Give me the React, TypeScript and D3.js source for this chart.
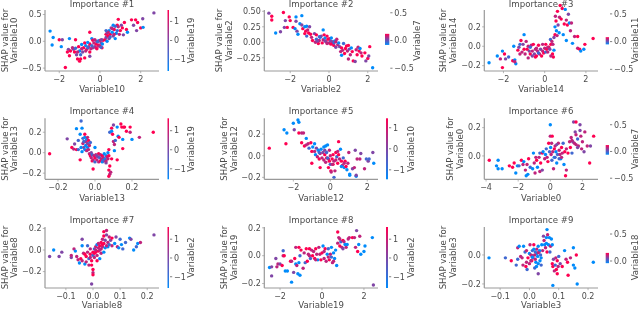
import React from "react";
import * as d3 from "d3";

type P = number[];

const mainFeatures = ["Variable10", "Variable2", "Variable14", "Variable13", "Variable12", "Variable0", "Variable8", "Variable19", "Variable3"];
const colorFeatures = ["Variable19", "Variable7", "Variable11", "Variable19", "Variable10", "Variable7", "Variable2", "Variable2", "Variable18"];

const xDomains = [[-2.7, 2.9], [-3.335, 2.526], [-2.93, 2.587], [-0.27, 0.346], [-3.57, 2.58], [-4.11, 2.97], [-0.177, 0.2435], [-2.75, 2.67], [-0.154, 0.234]];
const yDomains = [[-0.554, 0.584], [-0.463, 0.521], [-0.255, 0.374], [-0.26, 0.336], [-0.218, 0.346], [-0.165, 0.266], [-0.352, 0.213], [-0.232, 0.206], [-0.228, 0.193]];

const xTickValues = [[-2, 0, 2], [-2, 0, 2], [-2, 0, 2], [-0.2, 0, 0.2], [-2, 0, 2], [-4, -2, 0, 2], [-0.1, 0, 0.1, 0.2], [-2, 0, 2], [-0.1, 0, 0.1, 0.2]];
const yTickValues = [[-0.5, 0, 0.5], [-0.25, 0, 0.25, 0.5], [-0.2, 0, 0.2], [-0.2, 0, 0.2], [-0.2, 0, 0.2], [0, 0.2], [-0.2, 0, 0.2], [-0.2, 0, 0.2], [-0.2, 0]];
const xTickDigits = [0, 0, 0, 1, 0, 0, 1, 0, 1];
const yTickDigits = [1, 2, 1, 1, 1, 1, 1, 1, 1];
const colorTickValues = [[-1, 0, 1], [-0.5, 0, 0.5], [-0.5, 0, 0.5], [-1, 0, 1], [-1, 0, 1], [-0.5, 0, 0.5], [-1, 0, 1], [-1, 0, 1], [0, 0.5]];
const colorTickDigits = [0, 1, 1, 0, 0, 1, 0, 0, 1];
// value shown at the bottom and top of each colour bar's full height
const colorAxisDomains = [[-1.6, 1.6], [-0.55, 0.55], [-0.53, 0.57], [-1.55, 1.65], [-1.45, 1.45], [-0.52, 0.62], [-1.6, 1.65], [-1.6, 1.65], [-0.5, 0.63]];
// value range that the gradient itself covers
const colorBarRanges = [[-1.6, 1.6], [-0.08, 0.12], [-0.05, 0.08], [-1.55, 1.65], [-1.45, 1.45], [-0.06, 0.12], [-1.6, 1.65], [-1.6, 1.65], [-0.04, 0.15]];

const importance1: P[] = [
[-2.45,.19,-1],[-2.3,.07,-1],[-2.35,-.07,-1],[-2,.03,1],[-1.85,.03,0],[-1.9,-.1,-1],[-1.7,-.49,1],[-1.5,.05,-1],[-1.2,.03,1],[-1.55,-.15,0],[-1.6,-.2,1],[-1.45,-.18,1],[-1.5,-.27,1],[-1.3,-.15,0],[-1.25,-.2,1],[-1.15,-.25,0],[-1.1,-.33,1],[-1,-.37,1],[-.95,-.33,1],[-1,-.18,-1],[-1.05,-.1,1],[-.75,-.31,1],[-.85,-.2,0],[-.8,-.12,1],[-.7,-.08,-1],[-.65,-.15,1],[-.55,-.1,0],[-.5,-.2,1],[-.5,-.05,1],[-.75,-.03,1],[-.9,-.06,-1],[-.6,-.02,-1],[-.4,.05,-1],[-.5,.17,1],[-.35,.02,1],[-.35,-.12,0],[-.5,-.28,0],[-.25,-.1,0],[-.2,-.05,1],[-.15,0,0],[-.1,-.07,1],[-.05,.01,-1],[0,-.08,1],[.05,-.03,0],[.1,-.12,1],[.12,-.05,-1],[.15,.02,1],[-1.35,-.12,.5],[-1.2,-.13,-.5],[-1.1,-.2,.5],[-.95,-.25,-.5],[-.9,-.14,.5],[-.7,-.18,.5],[-.6,-.12,-.5],[-.45,-.14,.5],[-.4,-.08,-.5],[-.3,-.03,.5],[-.2,-.12,.5],[-.12,-.01,-.5],[-.05,-.09,.5],[.02,.02,.5],[.05,-.11,-.5],[-.25,.03,.5],[-.15,-.14,1],[.08,.03,0],[.25,.03,1],[.3,.07,0],[.3,.13,1],[.35,0,-1],[.35,.16,0],[.4,.1,1],[.45,.2,-1],[.45,.05,0],[.5,.13,1],[.55,.25,0],[.6,.17,-1],[.65,.3,-1],[.65,.1,0],[.7,.22,1],[.75,.05,-1],[.8,.15,-1],[.85,.3,1],[.9,.41,1],[1,.2,1],[1.05,.3,0],[1.1,.25,1],[1.15,.12,0],[1.2,.35,1],[1.3,.22,1],[1.35,.17,-1],[1.55,.4,1],[1.65,.3,0],[1.75,.4,1],[1.8,.2,0],[1.85,.35,1],[2,.25,1],[2.1,.42,0],[2.12,.26,-1],[2.65,.53,0],[.4,.17,.5],[.5,.08,-.5],[.6,.24,.5],[.7,.13,.5],[.85,.2,-.5],[.9,.27,.5],[.3,.2,-.5],[.75,.28,-.5],[.95,.13,.5]
];
const importance2: P[] = [
[-3.1,.47,0],[-2.95,.42,1],[-2.95,.36,1],[-2.35,.48,1],[-2.05,.41,1],[-2,.35,1],[-1.7,.41,-1],[-1.4,.43,-1],[-1.7,.34,0],[-1.5,.3,-1],[-2.25,.35,0],[-2.75,.15,-1],[-2.5,.17,0],[-2.3,.24,0],[-2.15,.24,1],[-1.85,.24,1],[-1.75,.22,-1],[-1.65,.18,0],[-1.6,.13,-1],[-1.4,.28,0],[-1.35,.22,1],[-1.25,.25,-1],[-1.15,.26,-1],[-1.2,.18,1],[-1.1,.2,.5],[-1.05,.15,1],[-1.25,.14,1],[-1,.25,0],[-.95,.13,1],[-.9,.08,.5],[-1.15,.1,-.5],[-.75,.14,0],[-.65,.12,1],[-.85,.03,1],[-.7,0,.5],[-.65,.05,-.5],[-.55,-.02,1],[-.5,.03,.5],[-.45,.08,-1],[-.4,.1,0],[-.35,-.01,1],[-.3,.04,.5],[-.25,.12,1],[-.3,.2,-1],[-.2,.07,-1],[-.15,.01,.5],[-.1,.1,1],[-.05,.05,1],[0,-.01,.5],[.02,.06,1],[.08,.02,0],[.12,.07,-1],[.15,-.02,.5],[.2,.01,0],[.25,-.05,1],[.3,.02,-1],[.35,-.08,0],[.4,.05,.5],[.45,-.04,.5],[.5,-.01,-1],[.55,-.07,0],[.6,-.15,.5],[.65,-.09,1],[.7,-.13,.5],[.75,-.02,-.5],[.8,-.18,1],[.85,-.1,1],[.9,-.06,1],[.95,-.14,.5],[1,-.05,1],[1.05,-.11,0],[1.1,-.2,.5],[1.15,-.09,-1],[1.2,-.15,1],[1.25,-.3,1],[1.35,-.31,0],[1.4,-.12,.5],[1.45,-.2,1],[1.5,-.08,.5],[1.55,-.14,1],[1.6,-.1,-1],[1.65,-.17,.5],[1.7,-.22,1],[.65,-.21,-1],[1,-.27,.5],[1.85,-.17,1],[1.9,-.3,0],[2,-.26,1],[2.05,-.22,0],[2.1,-.07,1],[2.25,-.41,-1],[-.6,.02,0],[-.1,-.02,.5],[.25,-.01,-.5],[.1,-.03,1],[.35,.01,.5],[-.2,.02,0],[-.5,.09,-.5]
];
const importance3: P[] = [
[-2.7,-.17,-1],[-2.3,-.1,-1],[-2.15,-.13,.5],[-2.05,-.05,-1],[-2.05,-.22,1],[-1.95,-.08,1],[-1.9,-.13,0],[-1.75,-.11,-.5],[-1.55,-.15,1],[-1.45,-.14,-1],[-1.4,-.18,-1],[-1.45,-.16,.5],[-1.5,0,-1],[-1.3,-.04,1],[-1.25,-.01,0],[-1.2,.02,-.5],[-1.15,.06,1],[-1.1,-.06,.5],[-1.05,.02,0],[-1,.12,-1],[-1,-.03,1],[-.95,-.08,.5],[-.9,.05,.5],[-.85,-.03,1],[-.8,-.12,.5],[-.75,-.05,0],[-.7,-.08,1],[-.65,.01,.5],[-.6,-.05,.5],[-.55,.02,1],[-.5,-.08,0],[-.45,-.03,.5],[-.4,-.1,1],[-.35,-.05,.5],[-.3,.01,1],[-.25,-.08,.5],[-.2,-.03,0],[-.15,-.1,1],[-.1,-.05,.5],[-.05,-.07,1],[0,-.02,.5],[.05,-.06,-.5],[.1,-.03,1],[.15,-.06,.5],[.2,-.01,1],[.25,-.03,0],[.3,.02,1],[.28,.07,-.5],[.35,.05,.5],[.38,-.08,1],[.42,-.11,1],[.4,.02,.5],[.45,-.04,-1],[.45,.09,0],[.5,.12,1],[.5,.2,-1],[.52,.31,.5],[.55,.26,1],[.57,.16,-1],[.6,.11,.5],[.62,.36,1],[.65,.22,0],[.7,.14,-1],[.72,.3,.5],[.75,.42,1],[.8,.28,1],[.85,.39,1],[.9,.12,-1],[.95,.23,1],[1,.38,-1],[1.05,.27,.5],[1.1,.22,1],[1.15,.33,0],[1.2,.24,-1],[1.25,.16,.5],[1.05,.06,-1],[1.3,.24,.5],[1.35,.03,-1],[1.45,.1,.5],[1.6,.1,1],[1.6,-.02,.5],[1.7,-.03,1],[1.75,-.05,-1],[1.9,-.03,-1],[1.95,.02,1],[2.35,.08,1],[.3,-.1,.5],[-.1,.02,.5],[-.6,-.1,0],[-1.2,-.08,.5],[-.3,-.07,-.5],[.05,.02,1],[-.4,-.02,.5],[-.8,0,.5],[-.45,-.11,1],[.15,-.01,.5],[-.7,-.01,-.5]
];
const importance4: P[] = [
[-.245,-.01,1],[-.15,.135,0],[-.125,.05,1],[-.115,.035,.5],[-.11,.085,0],[-.1,.03,1],[-.1,.235,-1],[-.09,.12,-.5],[-.09,.03,-.5],[-.08,-.07,1],[-.08,.18,-1],[-.075,.31,-.5],[-.07,.24,-1],[-.075,.05,-1],[-.07,.01,-1],[-.065,.14,-.5],[-.065,.09,.5],[-.06,.05,0],[-.055,.15,-1],[-.055,.18,1],[-.055,.03,-1],[-.05,.11,.5],[-.05,.07,-1],[-.045,.13,-1],[-.045,.02,.5],[-.04,.09,0],[-.04,.05,-1],[-.035,.12,1],[-.035,.03,.5],[-.03,.07,.5],[-.03,-.01,.5],[-.025,.1,-.5],[-.025,-.03,1],[-.02,0,0],[-.02,-.05,.5],[-.015,-.08,1],[-.015,-.02,-.5],[-.01,-.07,.5],[-.01,-.16,1],[-.005,-.03,.5],[0,-.09,-.5],[0,-.05,1],[0,.05,-1],[.005,-.02,.5],[.01,-.07,.5],[.015,-.04,0],[.02,-.01,1],[.02,-.09,.5],[.025,-.05,-.5],[.03,-.02,.5],[.03,-.08,1],[.035,-.06,.5],[.04,-.03,1],[.04,-.09,-1],[.045,-.05,.5],[.05,-.01,-1],[.05,-.08,.5],[.055,-.06,-1],[.06,-.03,-1],[.06,-.1,0],[.065,-.04,.5],[.07,0,-1],[.07,-.06,.5],[.075,-.03,1],[.08,-.13,1],[.075,-.17,1],[.08,-.21,.5],[.075,-.23,1],[.085,-.19,.5],[.075,.03,1],[.08,.2,-.5],[.09,.24,1],[.09,.21,-1],[.095,.18,1],[.1,.27,0],[.1,.11,.5],[.105,.08,.5],[.105,.02,-1],[.11,.12,-.5],[.12,.25,-1],[.125,.16,-1],[.13,.15,1],[.14,.28,1],[.145,.25,1],[.15,.13,-1],[.155,.25,1],[.16,.25,1],[.15,.04,1],[.17,.21,1],[.19,.2,.5],[.19,.25,1],[.2,.13,-1],[.24,.15,.5],[.315,.2,1],[.09,-.06,1],[.12,-.07,1],[.01,-.03,0],[.045,-.075,-.5],[-.06,.11,-.5],[-.04,.15,.5],[.06,-.08,.5]
];
const importance5: P[] = [
[-3.3,.07,1],[-2.5,.24,-1],[-2.4,.11,1],[-2.35,.21,-1],[-2,.3,-1],[-1.95,.24,0],[-1.75,.33,-1],[-1.7,.31,-1],[-1.7,.21,1],[-1.55,.21,.5],[-1.45,.21,.5],[-1.55,.12,1],[-1.4,.09,1],[-1.3,.1,.5],[-1.3,.16,-1],[-1.2,.11,.5],[-1.15,.07,-.5],[-1.05,.12,1],[-1,.04,1],[-.95,.08,-1],[-.85,.11,-1],[-1,-.07,1],[-.85,.04,.5],[-.8,.01,-1],[-.75,.07,0],[-.7,-.01,.5],[-.65,.05,-1],[-.6,-.03,1],[-.55,.02,.5],[-.5,.06,-1],[-.55,-.11,1],[-.45,-.02,.5],[-.4,.03,0],[-.35,.08,-1],[-.35,-.04,.5],[-.3,.01,1],[-.25,.09,-1],[-.25,-.06,.5],[-.2,.03,-.5],[-.2,-.02,1],[-.15,.1,-1],[-.1,-.03,.5],[-.1,-.11,1],[-.05,.05,.5],[-.05,-.05,1],[0,0,.5],[0,-.08,-.5],[.03,-.14,1],[.05,-.15,.5],[.1,-.03,1],[.15,-.08,1],[.2,-.05,.5],[.2,-.2,-.5],[.25,-.14,.5],[.3,.03,1],[.35,-.01,-.5],[.4,.04,.5],[.4,-.07,1],[.45,.01,1],[.45,.13,1],[.5,-.03,.5],[.55,.06,-1],[.6,-.05,1],[.65,-.09,.5],[.7,-.02,-.5],[.75,-.11,-1],[.8,-.05,1],[.85,-.1,1],[.9,-.13,-1],[.95,-.07,.5],[1,.03,.5],[1.05,-.17,-1],[1.05,-.18,-1],[1.2,-.12,0],[1.3,-.11,.5],[1.35,.05,0],[1.4,-.19,-1],[1.4,-.18,0],[1.45,-.03,.5],[1.6,-.03,.5],[1.65,.02,0],[1.85,-.12,.5],[1.95,-.03,-.5],[2.05,-.05,0],[2.1,-.03,-.5],[2.3,.03,0],[2.35,-.07,-1],[-.3,.05,0],[.15,.01,1],[.3,-.04,.5],[-.15,-.02,-.5],[.6,-.1,-1],[.75,-.07,.5],[-.6,.03,-.5],[.1,-.08,.5]
];
const importance6: P[] = [
[-3.8,-.03,1],[-3.25,-.03,-1],[-3.35,-.07,-1],[-3.25,-.09,-1],[-3,-.09,-1],[-2.55,-.07,1],[-2.35,-.08,1],[-2.25,-.05,1],[-2.15,-.12,-1],[-2.05,-.07,-1],[-1.95,-.07,-.5],[-1.8,-.03,1],[-1.7,-.06,.5],[-1.65,-.04,-1],[-1.55,-.1,.5],[-1.5,-.14,-1],[-1.4,-.13,-1],[-1.45,-.06,.5],[-1.35,-.02,1],[-1.25,-.08,-.5],[-1.1,-.09,-1],[-1.05,.02,-1],[-1,-.05,.5],[-.95,-.12,.5],[-.85,-.03,1],[-.8,-.08,-1],[-.7,-.01,.5],[-.65,.02,-.5],[-.65,-.11,.5],[-.6,-.05,1],[-.5,.02,1],[-.5,-.1,0],[-.45,.03,-1],[-.35,-.02,.5],[-.3,.01,-1],[-.25,.05,-.5],[-.2,-.01,.5],[-.15,-.04,1],[-.1,.09,1],[-.05,.03,-.5],[0,.22,-1],[0,.14,.5],[.02,.06,-1],[.05,.01,.5],[.08,.09,.5],[.1,-.03,-.5],[.12,.14,1],[.15,.03,.5],[.2,-.09,.5],[.25,-.01,-1],[.3,.07,.5],[.35,.03,-1],[.4,-.05,-1],[.45,.01,-.5],[.5,.09,.5],[.55,.04,.5],[.6,.01,.5],[.65,-.02,-1],[.7,.06,1],[.75,.02,.5],[.8,.09,-.5],[.85,-.06,-1],[.9,.03,1],[.95,-.14,1],[1,-.1,.5],[1,.05,.5],[1.1,.02,1],[1.2,.1,.5],[1.25,.06,1],[1.3,.13,.5],[1.35,.02,-.5],[1.4,.1,0],[1.45,.24,0],[1.5,.09,.5],[1.55,.17,0],[1.6,.24,1],[1.6,.15,.5],[1.7,.12,-.5],[1.75,.07,.5],[1.85,.22,0],[1.85,.18,0],[1.9,.14,.5],[1.95,.05,.5],[2,.1,.5],[2.1,.03,0],[2.15,.17,.5],[2.3,.07,.5],[2.45,-.05,1],[2.5,.07,0],[2.7,.14,1],[.4,.08,0],[.55,-.02,-.5],[.3,-.01,-.5],[.7,-.01,.5],[-.9,-.01,.5],[1.35,.11,.5],[1.6,.08,.5],[1.7,.06,0],[.25,.05,1]
];
const importance7: P[] = [
[-.16,-.06,0],[-.145,.0,-1],[-.125,-.06,0],[-.115,-.02,0],[-.08,-.07,0],[-.08,-.05,.5],[-.07,.01,.5],[-.065,-.01,-1],[-.06,-.06,.5],[-.055,-.09,.5],[-.05,-.12,-1],[-.045,-.08,1],[-.04,.04,-1],[-.04,.1,0],[-.04,-.1,.5],[-.035,-.03,.5],[-.03,-.13,-1],[-.025,-.06,1],[-.02,.04,-.5],[-.02,-.02,.5],[-.015,-.08,-.5],[-.015,-.14,.5],[-.01,-.04,1],[-.01,.01,.5],[-.005,-.1,1],[-.005,-.14,1],[0,-.05,-.5],[0,-.02,1],[0,-.18,1],[0,-.21,.5],[0,-.23,1],[-.005,-.315,0],[.005,-.07,.5],[.005,.01,-.5],[.01,-.02,1],[.01,.03,.5],[.015,-.05,.5],[.015,.05,-1],[.02,-.01,1],[.02,.02,.5],[.025,.04,1],[.025,-.08,-1],[.03,.01,.5],[.03,.07,1],[.035,.03,.5],[.035,.1,.5],[.04,.06,1],[.04,.13,1],[.04,.17,1],[.045,.09,0],[.045,.02,-1],[.05,.14,0],[.05,.18,.5],[.055,.07,.5],[.055,.03,-1],[.06,.12,.5],[.065,.09,0],[.07,.04,.5],[.07,.11,1],[.08,.06,-1],[.085,.12,0],[.09,.03,.5],[.095,.02,-1],[.1,.1,-.5],[.105,.05,-1],[.11,.01,-.5],[.12,.07,-.5],[.135,.11,-1],[.14,.1,0],[.15,.0,-1],[.16,.03,-.5],[.165,.06,-1],[.175,.07,.5],[.225,.14,0],[.03,-.03,.5],[.04,-.02,-1],[.02,.06,.5],[.05,.04,.5],[.015,-.1,1],[-.01,-.07,.5],[.06,.05,-.5],[-.03,-.04,1],[.01,.0,.5],[.025,.0,.5],[.005,-.03,1],[.035,.05,1],[-.025,-.11,.5]
];
const importance8: P[] = [
[-2.5,-.085,-1],[-2.4,-.08,0],[-2.4,-.145,0],[-2.2,-.02,0],[-2.15,-.08,.5],[-2.1,-.06,.5],[-2,-.06,0],[-1.9,-.07,1],[-1.85,.0,.5],[-1.85,.035,-.5],[-1.8,.0,1],[-1.75,-.11,-1],[-1.65,-.11,-1],[-1.5,-.04,1],[-1.45,-.04,.5],[-1.45,-.19,-1],[-1.35,-.12,0],[-1.3,-.02,1],[-1.25,-.06,-1],[-1.25,.06,.5],[-1.2,-.07,.5],[-1.15,-.13,-1],[-1.1,-.05,-1],[-1.1,.06,1],[-1.05,.0,-.5],[-1.05,-.14,-1],[-1,.04,1],[-.9,-.09,.5],[-.85,.02,.5],[-.8,-.05,-.5],[-.75,.05,1],[-.7,-.04,1],[-.65,.01,.5],[-.6,.05,1],[-.55,-.02,-.5],[-.5,.04,.5],[-.45,.0,1],[-.4,.03,.5],[-.35,-.02,1],[-.3,.05,1],[-.25,.01,.5],[-.2,-.03,-1],[-.15,.06,.5],[-.1,.01,.5],[-.05,-.03,1],[0,.02,1],[.05,.07,-1],[.1,-.02,.5],[.15,.05,1],[.2,-.04,.5],[.25,.01,-1],[.3,.05,-.5],[.35,-.03,1],[.4,.01,.5],[.45,.06,-1],[.5,-.05,.5],[.55,.02,-1],[.6,-.02,-1],[.65,.04,-1],[.7,-.07,-1],[.75,.09,.5],[.75,.17,1],[.8,.13,.5],[.85,.07,1],[.9,.1,-.5],[.95,.06,.5],[1,.11,1],[1,.05,0],[1.05,.1,.5],[1.1,.08,-1],[1.15,.06,.5],[1.2,.08,-1],[1.3,.13,.5],[1.45,.13,1],[1.55,.13,.5],[1.6,.06,.5],[1.65,.18,0],[1.7,.03,1],[1.75,.08,-1],[1.8,.14,.5],[1.85,.01,-1],[2,.03,-1],[2.05,.07,-1],[2.4,.13,-1],[2.45,-.21,0],[.1,.03,.5],[.3,-.01,.5],[-.3,-.03,.5],[.45,-.01,-.5],[.85,.12,.5],[1.25,.12,.5],[.55,-.04,.5],[-.6,.0,.5]
];
const importance9: P[] = [
[-.138,-.02,-1],[-.082,-.02,-.5],[-.062,-.04,1],[-.045,-.07,-.5],[-.04,.05,.5],[-.04,-.03,-.5],[-.035,.06,-1],[-.03,-.01,.5],[-.025,-.02,.5],[-.022,-.07,.5],[-.02,.06,-1],[-.015,.02,-.5],[-.012,-.08,1],[-.01,.03,.5],[-.008,-.1,-.5],[-.005,-.02,1],[0,.01,-1],[0,-.06,.5],[.002,.07,.5],[.005,.0,.5],[.008,-.04,1],[.01,.03,-.5],[.012,-.02,0],[.015,.07,1],[.018,-.09,-.5],[.02,.02,-.5],[.022,-.05,-1],[.025,.04,.5],[.028,-.01,-1],[.03,-.13,0],[.03,.06,-1],[.033,.02,.5],[.036,-.04,-1],[.038,.0,-.5],[.04,-.07,-.5],[.042,.07,-1],[.045,.03,.5],[.048,.13,0],[.05,.1,.5],[.052,.07,-1],[.055,.05,.5],[.058,.12,-1],[.06,.02,1],[.058,.08,-1],[.06,.175,-1],[.062,.14,.5],[.065,.07,-1],[.068,.12,-1],[.07,.02,-.5],[.072,.06,.5],[.075,.11,-1],[.078,-.06,1],[.078,.07,-1],[.08,-.21,-1],[.08,-.08,1],[.082,-.03,0],[.085,-.11,.5],[.088,-.07,-.5],[.09,-.02,.5],[.092,-.1,1],[.095,-.04,1],[.095,-.13,1],[.098,-.08,.5],[.1,-.01,-.5],[.105,-.06,0],[.112,-.08,1],[.12,.03,-1],[.125,-.03,.5],[.13,-.05,1],[.132,-.14,1],[.14,-.02,.5],[.15,.05,-1],[.15,-.07,-1],[.155,-.09,-1],[.16,.0,1],[.163,-.2,-1],[.218,-.05,-1],[.01,-.005,.5],[.02,-.03,.5],[.025,.01,-1],[.03,-.06,-1],[.035,.03,-1],[.018,.0,.5],[.04,-.02,-1],[.005,-.04,.5],[-.01,-.05,.5],[.01,-.015,-1],[.03,.015,.5],[.015,.04,-1],[.024,-.08,-1]
];

const allPoints = [importance1, importance2, importance3, importance4, importance5, importance6, importance7, importance8, importance9];

const colLeft = [45, 264.3, 484.3];
const colRight = [159, 378, 598];
const rowTop = [10, 118.3, 227];
const rowBottom = [71, 179.3, 288];
const titleY = [3.8, 111, 219.7];
const xLabelY = [89, 197.7, 304.5];
const yLabelX = [[4.5, 14], [219, 229], [443, 453], [4.5, 14], [224, 234], [450, 460], [4.5, 14], [224, 234], [443, 453]];
const barX = [[167.5, 169], [385, 389.3], [605.7, 609], [167.5, 169], [386, 388], [605.7, 609], [167.5, 169], [386, 388], [605.7, 609]];
const barLabelX = [191, 417, 635.3, 191, 410.7, 635.3, 191, 410.7, 635.3];

const ink = "#4a4a4a";
const axisGray = "#999";
const low = "#008bfb";
const high = "#ff0051";
const font = "'DejaVu Sans', sans-serif";

const fmt = (v: number, digits: number) => d3.format(`.${digits}f`)(v).replace("-", "\u2212");

function Panel({ i }: { i: number }) {
  const col = i % 3;
  const row = Math.floor(i / 3);
  const l = colLeft[col], r = colRight[col], t = rowTop[row], b = rowBottom[row];
  const x = d3.scaleLinear().domain(xDomains[i]).range([l, r]);
  const y = d3.scaleLinear().domain(yDomains[i]).range([b, t]);
  const c = d3.scaleLinear<string>().domain([-1, 1]).range([low, high]).interpolate(d3.interpolateRgb);
  const cAxis = d3.scaleLinear().domain(colorAxisDomains[i]).range([b, t]);
  const [bx0, bx1] = barX[i];
  const barTop = cAxis(colorBarRanges[i][1]);
  const barBottom = cAxis(colorBarRanges[i][0]);
  const midY = (t + b) / 2;
  return (
    <g fontFamily={font}>
      <defs>
        <linearGradient id={`cb${i}`} x1="0" y1="1" x2="0" y2="0">
          <stop offset="0" stopColor={low} />
          <stop offset="1" stopColor={high} />
        </linearGradient>
      </defs>
      <text x={(l + r) / 2} y={titleY[row]} dy="0.35em" textAnchor="middle" fontSize={8.6} fill={ink}>{`Importance #${i + 1}`}</text>
      {allPoints[i].map((p, k) => (
        <circle key={k} cx={x(p[0])} cy={y(p[1])} r={1.7} fill={c(p[2])} />
      ))}
      <line x1={l} x2={r} y1={b} y2={b} stroke={axisGray} strokeWidth={1.2} />
      <line x1={l} x2={l} y1={t} y2={b} stroke={axisGray} strokeWidth={1.2} />
      {xTickValues[i].map((v) => (
        <g key={v}>
          <line x1={x(v)} x2={x(v)} y1={b} y2={b + 2.2} stroke={axisGray} strokeWidth={0.7} />
          <text x={x(v)} y={b + 8} dy="0.35em" textAnchor="middle" fontSize={8} fill={ink}>{fmt(v, xTickDigits[i])}</text>
        </g>
      ))}
      {yTickValues[i].map((v) => (
        <g key={v}>
          <line x1={l - 2.2} x2={l} y1={y(v)} y2={y(v)} stroke={axisGray} strokeWidth={0.7} />
          <text x={l - 3.5} y={y(v)} dy="0.35em" textAnchor="end" fontSize={8} fill={ink}>{fmt(v, yTickDigits[i])}</text>
        </g>
      ))}
      <text x={(l + r) / 2} y={xLabelY[row]} dy="0.35em" textAnchor="middle" fontSize={8.6} fill={ink}>{mainFeatures[i]}</text>
      <text transform={`translate(${yLabelX[i][0]},${midY}) rotate(-90)`} dy="0.35em" textAnchor="middle" fontSize={8.6} fill={ink}>SHAP value for</text>
      <text transform={`translate(${yLabelX[i][1]},${midY}) rotate(-90)`} dy="0.35em" textAnchor="middle" fontSize={8.6} fill={ink}>{mainFeatures[i]}</text>
      <rect x={bx0} y={barTop} width={bx1 - bx0} height={barBottom - barTop} fill={`url(#cb${i})`} />
      {colorTickValues[i].map((v) => (
        <g key={v}>
          <line x1={bx1 + 1} x2={bx1 + 3.2} y1={cAxis(v)} y2={cAxis(v)} stroke={ink} strokeWidth={0.7} />
          <text x={bx1 + 5} y={cAxis(v)} dy="0.35em" fontSize={8} fill={ink}>{fmt(v, colorTickDigits[i])}</text>
        </g>
      ))}
      <text transform={`translate(${barLabelX[i]},${midY}) rotate(-90)`} dy="0.35em" textAnchor="middle" fontSize={8.6} fill={ink}>{colorFeatures[i]}</text>
    </g>
  );
}

export default function App() {
  return (
    <svg width={640} height={309} viewBox="0 0 640 309" style={{ position: "fixed", left: 0, top: 0, background: "#fff", filter: "blur(0.35px)" }}>
      {allPoints.map((_, i) => <Panel key={i} i={i} />)}
    </svg>
  );
}
